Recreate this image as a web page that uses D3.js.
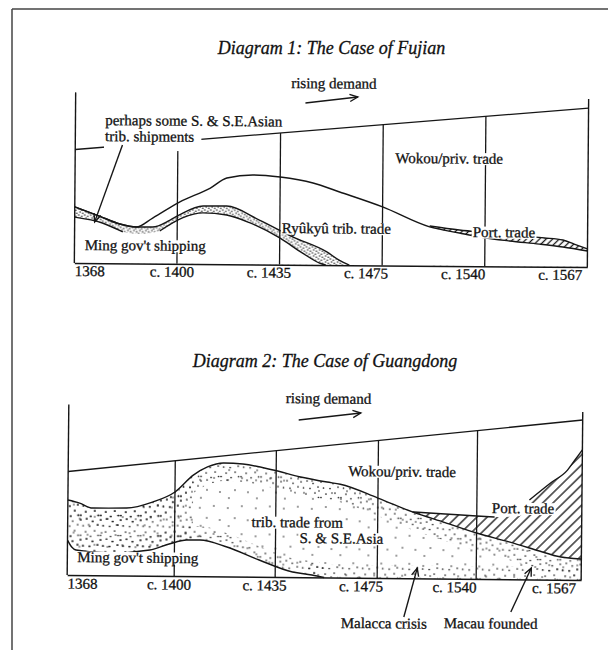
<!DOCTYPE html>
<html><head><meta charset="utf-8">
<script src="https://cdn.jsdelivr.net/npm/d3@7"></script>
<style>
html,body{margin:0;padding:0;background:#fff;}
svg{display:block;}
text{font-family:"Liberation Serif","Times New Roman",Times,serif;fill:#111;stroke:#111;stroke-width:0.3px;}
</style>
</head><body>
<svg id="c" width="608" height="650"></svg>
<script>
// ---------- DATA ----------
const periods = ["1368", "c. 1400", "c. 1435", "c. 1475", "c. 1540", "c. 1567"];
const periodIdx = [0, 1, 2, 3, 4, 5];

// Diagram 1: Fujian  ([period position, volume])
const fjDemand = [[0, 66], [5, 92.4]];
const fjUpper = [[0,32.6],[0.24,27.4],[0.44,22.9],[0.60,21.2],[0.76,26.5],[1.02,35.9],[1.32,44.2],[1.48,50.1],[1.74,52.0],[2.0,50.9],[2.32,47.6],[2.58,42.5],[3.0,34.0],[3.46,22.6],[3.75,19.2],[3.95,17.0],[4.24,14.8],[4.53,13.1],[4.76,11.5],[5,9.3]];
const fjMingTop = [[0,32.6],[0.24,27.4],[0.44,22.9],[0.60,21.2],[0.76,21.3],[0.93,25.4],[1.02,28.4],[1.25,33.7],[1.48,33.8],[1.80,25.8],[2.13,16.1],[2.46,7.6],[2.58,2.9],[2.68,0]];
const fjMingBottom = [[0,26.7],[0.27,23.4],[0.47,18.3],[0.63,17.2],[0.83,19.0],[1.05,26.7],[1.25,29.7],[1.48,28.6],[1.71,24.1],[2.0,15.5],[2.22,6.9],[2.39,1.1],[2.45,0]];
const fjPortTop = [[3.46,23.1],[3.75,20.9],[4.05,19.3],[4.34,17.7],[4.58,16.7],[4.76,15.6],[4.87,13.3],[5,10.5]];

// Diagram 2: Guangdong
const gdDemand = [[0, 60.2], [5, 93]];
const gdUpper = [[0,43.6],[0.11,41.9],[0.23,39.1],[0.55,39.3],[0.79,42.9],[1.0,48.9],[1.18,58.8],[1.32,63.6],[1.48,66.0],[1.67,65.5],[1.97,62.2],[2.24,58.3],[2.5,55.5],[2.63,54.3],[3.0,46.5],[3.35,38.6],[3.68,32.6],[4.0,26.7],[4.31,21.7],[4.6,16.6],[4.76,13.8],[5,12.2]];
const gdMing = [[0,20.3],[0.04,16.3],[0.08,14.6],[0.39,13.0],[0.77,15.0],[0.95,18.6],[1.12,21.0],[1.25,21.1],[1.52,17.2],[1.84,9.8],[2.17,3.0],[2.36,1.4],[2.48,0]];
const gdPortTop = [[3.35,38.6],[3.68,37.6],[4.0,36.6],[4.17,36.1],[4.41,36.8],[4.5,46.2],[4.7,56.2],[4.86,63.8],[4.93,69.7],[5,75.6]];

// annotations [text, period position, volume]
const fjNotes = [
  ["perhaps some S. & S.E.Asian", 0.29, 80.3],
  ["trib. shipments", 0.29, 71.0],
  ["Ming gov't shipping", 0.10, 7.6],
  ["Ryûkyû trib. trade", 2.02, 18.4],
  ["Wokou/priv. trade", 3.12, 59.6],
  ["Port. trade", 3.88, 16.9]
];
const gdNotes = [
  ["Wokou/priv. trade", 2.706, 59.1],
  ["trib. trade from", 1.762, 29.0],
  ["S. & S.E.Asia", 2.235, 19.9],
  ["Ming gov't shipping", 0.093, 7.6],
  ["Port. trade", 4.143, 38.4]
];
const gdBelowNotes = [["Malacca crisis", 2.647, -29.2], ["Macau founded", 3.677, -28.7]];
const fjArrows = [[[2.24,94.1],[2.75,97.8]], [[0.46,68.8],[0.195,24.0]]];
const gdArrows = [[[2.216,91.4],[2.824,95.8]], [[3.273,-22.5],[3.404,6.0]], [[4.333,-19.0],[4.524,6.7]]];
const demandLabel = "rising demand";
const fjDemandLabelPos = [2.10, 102.7];
const gdDemandLabelPos = [2.088, 101.2];
const titles = ["Diagram 1: The Case of Fujian", "Diagram 2: The Case of Guangdong"];

// ---------- DRAWING ----------
const INK = "#161616";
const svg = d3.select("#c");
const defs = svg.append("defs");

function dotPattern(id, size, pts, r) {
  const p = defs.append("pattern").attr("id", id).attr("patternUnits", "userSpaceOnUse")
    .attr("width", size).attr("height", size);
  p.selectAll("circle").data(pts).join("circle")
    .attr("cx", d => d[0]).attr("cy", d => d[1]).attr("r", r).attr("fill", "#1e1e1e");
}
dotPattern("dotsBand", 6, [[1,1],[4,2.2],[2.3,4],[5,5.2]], 0.8);
dotPattern("dotsDense", 20, [[1,2],[7,1],[13,3.5],[18,7],[3.5,8],[10,8.5],[15,13],[6,14],[1,17.5],[11,18.5],[18.5,17.5]], 0.85);
dotPattern("dotsSparse", 28, [[4,5],[18,3],[11,15],[24,17],[5,23]], 0.8);

function hatch(id, gap, w) {
  const p = defs.append("pattern").attr("id", id).attr("patternUnits", "userSpaceOnUse")
    .attr("width", gap).attr("height", gap).attr("patternTransform", "rotate(45)");
  p.append("rect").attr("width", gap).attr("height", gap).attr("fill", "#fff");
  p.append("line").attr("x1", gap / 2).attr("x2", gap / 2).attr("y1", 0).attr("y2", gap)
    .attr("stroke", INK).attr("stroke-width", w);
}
hatch("hatch1", 4.6, 1.3);
hatch("hatch2", 7.2, 1.3);

defs.append("marker").attr("id", "arr").attr("viewBox", "-10 -6 12 12")
  .attr("refX", 0).attr("refY", 0).attr("markerWidth", 12).attr("markerHeight", 12)
  .attr("markerUnits", "userSpaceOnUse").attr("orient", "auto")
  .append("path").attr("d", "M-8,-3.6 L0,0 L-8,3.6").attr("fill", "none")
  .attr("stroke", INK).attr("stroke-width", 1.4);

// frame
svg.append("line").attr("x1", 12).attr("x2", 608).attr("y1", 9).attr("y2", 9).attr("stroke", "#444").attr("stroke-width", 1.5);
svg.append("line").attr("x1", 12).attr("x2", 12).attr("y1", 9).attr("y2", 650).attr("stroke", "#444").attr("stroke-width", 1.5);

function addText(g, str, x, y, o = {}) {
  const t = g.append("text").attr("x", x).attr("y", y).attr("font-size", o.size || 15)
    .attr("text-anchor", o.anchor || "start").text(str);
  if (o.italic) t.attr("font-style", "italic");
  if (o.bg) {
    const b = t.node().getBBox();
    g.insert("rect", () => t.node())
      .attr("x", b.x - 1).attr("y", y - 10.5)
      .attr("width", b.width + 2 + (o.padR || 0)).attr("height", 12 + (o.padB || 0))
      .attr("fill", "#fff");
  }
  return t;
}

function frameAndAxis(g, x, y, demand, axisY) {
  const dY = i => y(demand[0][1]) + (y(demand[1][1]) - y(demand[0][1])) * (x(i) - x(0)) / (x(5) - x(0));
  g.append("line").attr("x1", x(0)).attr("y1", y(demand[0][1])).attr("x2", x(5)).attr("y2", y(demand[1][1]))
    .attr("stroke", INK).attr("stroke-width", 1.3);
  g.append("line").attr("x1", x(0)).attr("x2", x(0)).attr("y1", y(0)).attr("y2", y(99.2)).attr("stroke", INK).attr("stroke-width", 1.4);
  g.append("line").attr("x1", x(5)).attr("x2", x(5)).attr("y1", y(0)).attr("y2", y(97.7)).attr("stroke", INK).attr("stroke-width", 1.4);
  g.selectAll(null).data(periodIdx.slice(1, 5)).join("line")
    .attr("x1", d => x(d)).attr("x2", d => x(d)).attr("y1", y(0)).attr("y2", d => dY(d))
    .attr("stroke", INK).attr("stroke-width", 1.3);
  const ax = g.append("g").attr("transform", `translate(0,${y(0)})`)
    .call(d3.axisBottom(x).tickValues(periodIdx).tickFormat(i => periods[i]).tickSize(0).tickPadding(0));
  ax.select(".domain").attr("stroke", INK).attr("stroke-width", 1.5);
  ax.selectAll(".tick text")
    .attr("font-family", '"Liberation Serif","Times New Roman",serif').attr("font-size", 15)
    .attr("fill", INK).attr("dy", 0).attr("y", axisY)
    .attr("x", d => d === 0 ? 0 : -5.5 * d)
    .attr("text-anchor", d => d === 0 ? "start" : "middle");
}

const lineOf = (x, y) => d3.line().x(d => x(d[0])).y(d => y(d[1])).curve(d3.curveMonotoneX);
const areaOf = (x, y) => d3.area().x(d => x(d[0])).y0(y(0)).y1(d => y(d[1])).curve(d3.curveMonotoneX);

function arrows(g, x, y, list) {
  g.selectAll(null).data(list).join("line")
    .attr("x1", d => x(d[0][0])).attr("y1", d => y(d[0][1]))
    .attr("x2", d => x(d[1][0])).attr("y2", d => y(d[1][1]))
    .attr("stroke", INK).attr("stroke-width", 1.4).attr("marker-end", "url(#arr)");
}

// ===== Diagram 1 =====
{
  const x = d3.scaleLinear().domain([0, 5]).range([75, 588]);
  const y = d3.scaleLinear().domain([0, 100]).range([265, 93]);
  svg.append("text").attr("x", (x(0) + x(5)) / 2).attr("y", 54).attr("text-anchor", "middle")
    .attr("font-size", 18).attr("font-style", "italic").text(titles[0]);
  const g = svg.append("g").attr("transform", "rotate(0.45,330,180)");
  const area = areaOf(x, y), line = lineOf(x, y);
  g.append("path").attr("d", area(fjPortTop)).attr("fill", "url(#hatch1)");
  g.append("path").attr("d", area(fjUpper)).attr("fill", "#fff");
  g.append("path").attr("d", area(fjMingTop)).attr("fill", "url(#dotsBand)");
  g.append("path").attr("d", area(fjMingBottom)).attr("fill", "#fff");
  frameAndAxis(g, x, y, fjDemand, 13);
  const st = p => p.attr("fill", "none").attr("stroke", INK).attr("stroke-width", 1.4);
  st(g.append("path").attr("d", line(fjUpper)));
  st(g.append("path").attr("d", line(fjMingTop)));
  st(g.append("path").attr("d", line.defined(d => d[0] < 0.5 || d[0] > 0.8)(fjMingBottom)));
  line.defined(() => true);
  st(g.append("path").attr("d", line(fjPortTop)));
  fjNotes.forEach((n, i) => addText(g, n[0], x(n[1]), y(n[2]), {bg: true, padB: i === 1 ? 8 : 0, padR: i === 1 ? 6 : 0}));
  addText(g, demandLabel, x(fjDemandLabelPos[0]), y(fjDemandLabelPos[1]));
  arrows(g, x, y, fjArrows);
}

// ===== Diagram 2 =====
{
  const x = d3.scaleLinear().domain(periodIdx).range([68, 175, 276, 378, 477, 582]);
  const y = d3.scaleLinear().domain([0, 100]).range([577.5, 405.5]);
  svg.append("text").attr("x", (x(0) + x(5)) / 2).attr("y", 367).attr("text-anchor", "middle")
    .attr("font-size", 18).attr("font-style", "italic").text(titles[1]);
  const g = svg.append("g").attr("transform", "rotate(0.55,325,490)");
  const area = areaOf(x, y), line = lineOf(x, y);
  defs.append("clipPath").attr("id", "gdUnder").append("path").attr("d", area(gdUpper));
  g.append("path").attr("d", area(gdPortTop)).attr("fill", "url(#hatch2)");
  g.append("path").attr("d", area(gdUpper)).attr("fill", "#fff");
  g.append("path").attr("d", area(gdUpper)).attr("fill", "url(#dotsSparse)");
  const cg = g.append("g").attr("clip-path", "url(#gdUnder)");
  cg.append("path").attr("fill", "url(#dotsDense)")
    .attr("d", d3.area().x(d => x(d[0])).y1(d => y(d[1])).y0(d => y(d[1] - 10.5)).curve(d3.curveMonotoneX)(gdUpper));
  cg.append("path").attr("fill", "url(#dotsDense)")
    .attr("d", d3.area().x(d => x(d[0])).y0(d => y(d[1])).y1(d => y(d[1] + 8)).curve(d3.curveMonotoneX)(gdMing));
  cg.append("path").attr("fill", "url(#dotsDense)")
    .attr("d", d3.area().x(d => x(d)).y0(y(0)).y1(y(7.5))([2.3, 5]));
  cg.append("path").attr("fill", "url(#dotsDense)")
    .attr("d", area(gdUpper.filter(d => d[0] <= 1.18)));
  g.append("path").attr("d", area(gdMing)).attr("fill", "#fff");
  frameAndAxis(g, x, y, gdDemand, 13.5);
  const st = p => p.attr("fill", "none").attr("stroke", INK).attr("stroke-width", 1.4);
  st(g.append("path").attr("d", line(gdUpper)));
  st(g.append("path").attr("d", line(gdMing)));
  st(g.append("path").attr("d", line.defined(d => d[0] < 4.2 || d[0] > 4.45)(gdPortTop)));
  line.defined(() => true);
  gdNotes.forEach(n => addText(g, n[0], x(n[1]), y(n[2]), {bg: true}));
  gdBelowNotes.forEach(n => addText(g, n[0], x(n[1]), y(n[2])));
  addText(g, demandLabel, x(gdDemandLabelPos[0]), y(gdDemandLabelPos[1]));
  arrows(g, x, y, gdArrows);
}
</script>
</body></html>
